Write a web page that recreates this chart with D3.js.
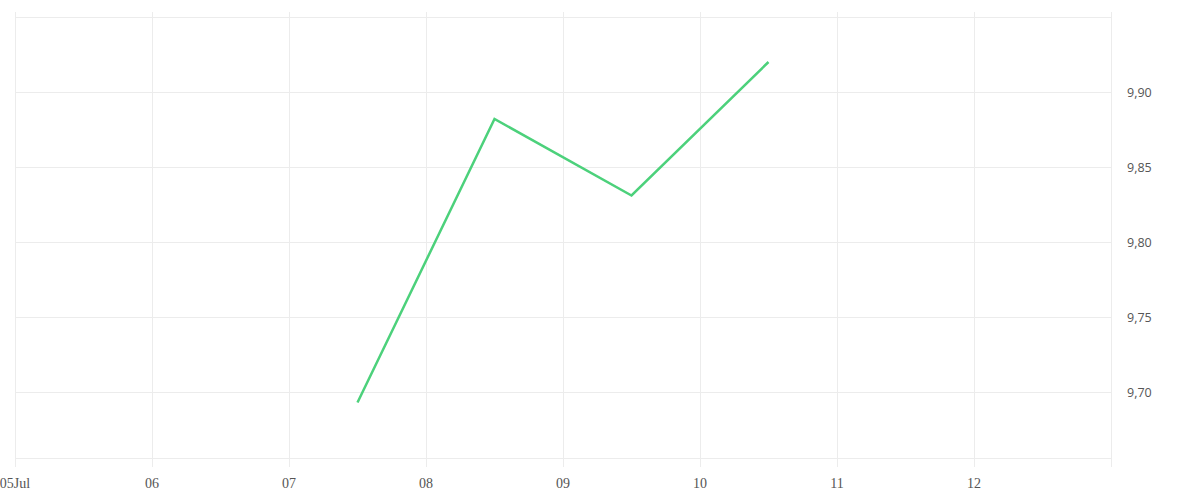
<!DOCTYPE html>
<html><head><meta charset="utf-8">
<script src="https://cdn.jsdelivr.net/npm/d3@7"></script>
<style>body{margin:0;background:#fff}svg{display:block}</style>
</head><body>
<script>
const dates = ["2024-07-07T12:00","2024-07-08T12:00","2024-07-09T12:00","2024-07-10T12:00"];
const values = [9.693, 9.882, 9.831, 9.920];
const xTickLabels = ["05Jul","06","07","08","09","10","11","12"];
const yTicks = [9.70, 9.75, 9.80, 9.85, 9.90];

const W=1200,H=500;
const svg=d3.select("body").append("svg").attr("width",W).attr("height",H);
const parse=d3.timeParse("%Y-%m-%dT%H:%M");
const x=d3.scaleTime().domain([new Date(2024,6,5),new Date(2024,6,13)]).range([15,1111]);
const y=d3.scaleLinear().domain([9.656,9.95]).range([458,17]);
const grid="#ececec";

// horizontal grid
const hLines=[9.95,...yTicks,9.656];
svg.append("g").selectAll("line").data(hLines).join("line")
 .attr("x1",15).attr("x2",1111).attr("y1",d=>Math.round(y(d))+0.5).attr("y2",d=>Math.round(y(d))+0.5)
 .attr("stroke",grid).attr("stroke-width",1);

// vertical grid
const xt=d3.timeDay.range(new Date(2024,6,5),new Date(2024,6,14));
svg.append("g").selectAll("line").data(xt).join("line")
 .attr("x1",d=>Math.round(x(d))+0.5).attr("x2",d=>Math.round(x(d))+0.5)
 .attr("y1",12).attr("y2",467).attr("stroke",grid).attr("stroke-width",1);

// x labels
svg.append("g").selectAll("text").data(xTickLabels).join("text")
 .attr("x",(d,i)=>x(d3.timeDay.offset(new Date(2024,6,5),i)))
 .attr("y",488).attr("text-anchor","middle")
 .attr("font-family","Liberation Serif, serif").attr("font-size",14).attr("fill","#555")
 .text(d=>d);

// y labels
svg.append("g").selectAll("text").data(yTicks).join("text")
 .attr("x",1127).attr("y",d=>y(d)+5)
 .attr("font-family","Open Sans, sans-serif").attr("font-size",12.5).attr("fill","#555")
 .text(d=>d3.format(".2f")(d).replace(".",","));

// line
const data=dates.map((d,i)=>({d:parse(d),v:values[i]}));
svg.append("path").datum(data)
 .attr("d",d3.line().x(d=>x(d.d)).y(d=>y(d.v)))
 .attr("fill","none").attr("stroke","#4cd17b").attr("stroke-width",2.5);
</script>
</body></html>
